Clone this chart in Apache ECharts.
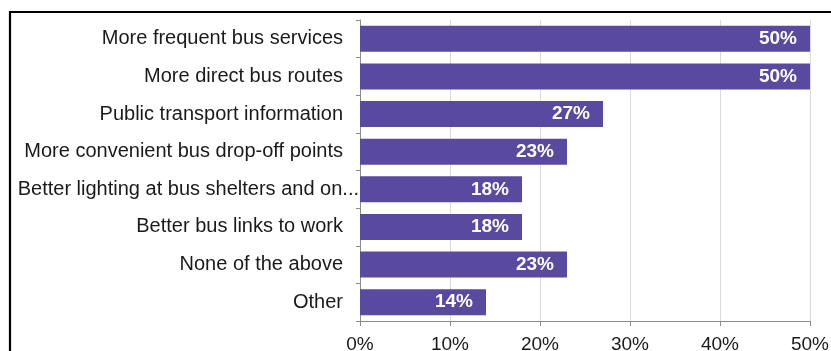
<!DOCTYPE html>
<html>
<head>
<meta charset="utf-8">
<script src="https://cdn.jsdelivr.net/npm/echarts@6/dist/echarts.min.js"></script>
<style>
  html, body { margin: 0; padding: 0; background: #ffffff; }
  #chart { width: 831px; height: 351px; }
</style>
</head>
<body>
<div id="chart"></div>
<script>
// Survey: improvements that would encourage more bus use (share of respondents)
const categories = [
  'More frequent bus services',
  'More direct bus routes',
  'Public transport information',
  'More convenient bus drop-off points',
  'Better lighting at bus shelters and on...',
  'Better bus links to work',
  'None of the above',
  'Other'
];
const shares = [50, 50, 27, 23, 18, 18, 23, 14];
const tickValues = [0, 10, 20, 30, 40, 50];

const chart = echarts.init(document.getElementById('chart'), null, { renderer: 'canvas' });

const categoryItems = categories.map(function (name) {
  if (name.length > 36) {
    // the long, cut-off label runs slightly closer to the axis
    return { value: name, textStyle: { padding: [0, -16, 0, 0] } };
  }
  return name;
});

chart.setOption({
  backgroundColor: '#ffffff',
  animation: false,
  graphic: [{
    type: 'rect',
    shape: { x: 10, y: 12, width: 900, height: 500 },
    style: { fill: 'none', stroke: '#000000', lineWidth: 2.2 },
    silent: true
  }],
  grid: {
    left: 360, right: 21, top: 20, bottom: 30,
    containLabel: false,
    outerBoundsMode: 'none'
  },
  xAxis: {
    type: 'value',
    min: tickValues[0],
    max: tickValues[tickValues.length - 1],
    interval: tickValues[1] - tickValues[0],
    axisLine: { show: true, lineStyle: { color: '#8c8c8c', width: 1 } },
    axisTick: { show: true, length: 5, lineStyle: { color: '#8c8c8c' } },
    splitLine: { show: true, lineStyle: { color: '#dadada', width: 1 } },
    axisLabel: {
      formatter: '{value}%',
      color: '#1a1a1a',
      fontFamily: 'Liberation Sans, Arial, sans-serif',
      fontSize: 19,
      margin: 14
    }
  },
  yAxis: {
    type: 'category',
    inverse: true,
    data: categoryItems,
    axisLine: { show: true, lineStyle: { color: '#8c8c8c', width: 1 } },
    axisTick: { show: true, length: 4, lineStyle: { color: '#8c8c8c' } },
    splitLine: { show: false },
    axisLabel: {
      color: '#1a1a1a',
      fontFamily: 'Liberation Sans, Arial, sans-serif',
      fontSize: 20,
      margin: 17
    }
  },
  series: [{
    type: 'bar',
    data: shares,
    barCategoryGap: '31%',
    itemStyle: { color: '#5a4a9f' },
    label: {
      show: true,
      position: 'insideRight',
      distance: 13,
      formatter: '{c}%',
      color: '#ffffff',
      fontWeight: 'bold',
      fontFamily: 'Liberation Sans, Arial, sans-serif',
      fontSize: 19
    }
  }]
});
</script>
</body>
</html>
